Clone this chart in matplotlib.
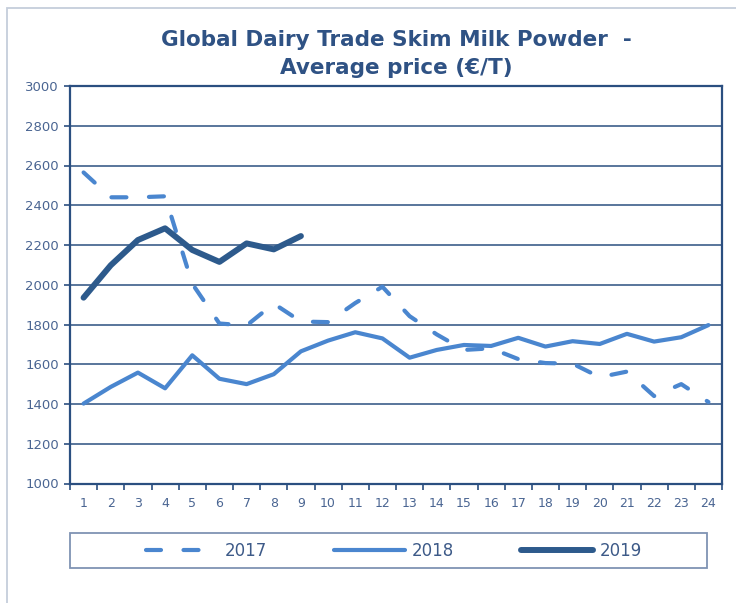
import numpy as np
import matplotlib
matplotlib.use("Agg")
import matplotlib.pyplot as plt
from matplotlib.patches import Rectangle

weeks = list(range(1, 25))

price_2017 = [2565, 2440, 2440, 2445, 2005, 1805, 1795, 1905, 1815, 1812,
              1908, 1990, 1842, 1750, 1672, 1680, 1626, 1606, 1603, 1535,
              1563, 1440, 1500, 1410]
price_2018 = [1402, 1486, 1558, 1479, 1645, 1527, 1500, 1550, 1665, 1719,
              1761, 1730, 1633, 1672, 1697, 1692, 1733, 1689, 1716, 1702,
              1753, 1714, 1736, 1797]
weeks_2019 = list(range(1, 10))
price_2019 = [1935, 2098, 2225, 2284, 2175, 2115, 2208, 2178, 2245]

y_ticks = list(range(1000, 3001, 200))

navy = '#2b4f80'
mid_blue = '#4a86cf'
dark_blue = '#2d5a8c'
label_col = '#4a6592'


def main():
    fig = plt.figure(figsize=(7.36, 6.03), dpi=100)
    ax = fig.add_axes([70 / 736, 1 - 483.5 / 603, 652 / 736, 397.5 / 603])

    # outer light frame
    fig.patches.append(Rectangle((7 / 736, -0.02), 1.0, 1 - 8 / 603 + 0.02,
                                 transform=fig.transFigure, fill=False,
                                 edgecolor='#c5cedb', linewidth=1.3))

    ax.plot(weeks, price_2017, color=mid_blue, lw=3, dashes=(3.6, 5.4),
            dash_capstyle='round', label='2017')
    ax.plot(weeks, price_2018, color=mid_blue, lw=3,
            solid_capstyle='round', label='2018')
    ax.plot(weeks_2019, price_2019, color=dark_blue, lw=4.3,
            solid_capstyle='round', label='2019')

    ax.set_xlim(0.5, 24.5)
    ax.set_ylim(1000, 3000)
    ax.set_yticks(y_ticks)
    ax.set_yticklabels([str(v) for v in y_ticks])
    ax.set_xticks(weeks)
    ax.set_xticks(np.arange(0.5, 25, 1), minor=True)

    ax.grid(axis='y', color=navy, linewidth=1.1)
    ax.set_axisbelow(True)
    for s in ax.spines.values():
        s.set_color(navy)
        s.set_linewidth(1.6)

    ax.tick_params(axis='y', direction='out', length=4, width=1.2,
                   color=navy, labelcolor=label_col, labelsize=9.5, pad=4)
    ax.tick_params(axis='x', which='major', length=0, labelcolor=label_col,
                   labelsize=9, pad=10)
    ax.tick_params(axis='x', which='minor', direction='out', length=4,
                   width=1.2, color=navy)

    fig.text(396 / 736, 1 - 40 / 603, 'Global Dairy Trade Skim Milk Powder  -',
             ha='center', va='center', fontsize=15.5, fontweight='bold',
             color='#2f5284')
    fig.text(396 / 736, 1 - 68 / 603, 'Average price (€/T)',
             ha='center', va='center', fontsize=15.5, fontweight='bold',
             color='#2f5284')

    # legend box
    fig.patches.append(Rectangle((70 / 736, 1 - 568 / 603), 637 / 736, 35 / 603,
                                 transform=fig.transFigure, fill=False,
                                 edgecolor='#7f93b3', linewidth=1.3))
    leg = fig.legend(loc='center', bbox_to_anchor=(394 / 736, 1 - 550.5 / 603),
                     ncol=3, frameon=False, fontsize=12, handlelength=4.3,
                     handletextpad=0.4, columnspacing=4.0)
    for t in leg.get_texts():
        t.set_color('#3d5a88')

    fig.savefig('out.png', dpi=100, facecolor='white')


if __name__ == "__main__":
    main()
